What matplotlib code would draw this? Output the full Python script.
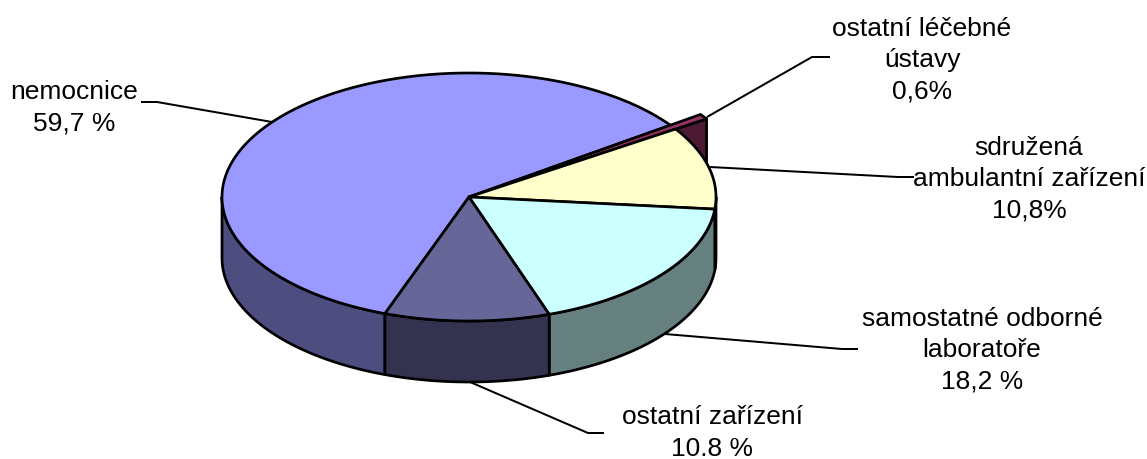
import numpy as np
import matplotlib
matplotlib.use("Agg")
import matplotlib.pyplot as plt
from matplotlib.patches import Polygon

plt.rcParams['font.family'] = ['Liberation Sans', 'DejaVu Sans']

categories = ["nemocnice", "ostatní léčebné ústavy", "sdružená ambulantní zařízení",
              "samostatné odborné laboratoře", "ostatní zařízení"]
values = [59.7, 0.6, 10.8, 18.2, 10.8]
top_colors = ["#9999FF", "#993366", "#FFFFCC", "#CCFFFF", "#666699"]
side_colors = ["#4D4D80", "#4D1A33", "#808066", "#668080", "#333350"]
label_texts = ["nemocnice\n59,7 %", "ostatní léčebné\nústavy\n0,6%",
               "sdružená\nambulantní zařízení\n10,8%",
               "samostatné odborné\nlaboratoře\n18,2 %", "ostatní zařízení\n10.8 %"]
label_pos = [(74, 108), (922, 60), (1029, 179), (982, 350), (712, 433)]
leaders = [[(141, 102), (157, 102), (272, 122)],
           [(830, 57), (812, 57), (707, 117)],
           [(914, 177), (898, 177), (710, 167)],
           [(858, 349), (842, 349), (665, 334)],
           [(604, 433), (588, 433), (470, 382)]]

CX, CY, RX, RY, DEPTH = 469, 197, 247, 124, 61
START = 250.1
LW = 2.7 * 0.72
LEADER_LW = 2.0 * 0.72
SMALL_SCALE = 1.15  # radial overshoot of the thin slice

fig = plt.figure(figsize=(11.47, 4.59), dpi=100)
ax = fig.add_axes([0, 0, 1, 1])
ax.set_xlim(0, 1147)
ax.set_ylim(459, 0)
ax.axis("off")


def pts(a0, a1, scale=1.0, dy=0.0):
    t = np.radians(np.linspace(a0, a1, max(int(abs(a1 - a0) * 2), 2)))
    return np.column_stack([CX + scale * RX * np.cos(t),
                            CY + dy - scale * RY * np.sin(t)])


total = sum(values)
edges = [START]
for v in values:
    edges.append(edges[-1] - v / total * 360)


def add(xy, fc, z):
    ax.add_patch(Polygon(xy, closed=True, facecolor=fc, edgecolor="black",
                         linewidth=LW, joinstyle="round", zorder=z))


# thin slice: its cut wall sits behind everything else
i_small = 1
a_hi, a_lo = edges[i_small], edges[i_small + 1]
outer = pts(a_lo, a_lo, SMALL_SCALE)[0]
add([(CX, CY), outer, outer + [0, DEPTH], (CX, CY + DEPTH)], side_colors[i_small], 1)

# outer walls of the front half
for i, (a0, a1) in enumerate(zip(edges[:-1], edges[1:])):
    lo, hi = a1, a0
    # front of the pie lies between 180 and 360 degrees (−180..0)
    for shift in (0, -360):
        l, h = max(lo, 180 + shift), min(hi, 360 + shift)
        if h > l and i != i_small:
            add(np.vstack([pts(h, l), pts(l, h, dy=DEPTH)]), side_colors[i], 2)

# top faces
for i, (a0, a1) in enumerate(zip(edges[:-1], edges[1:])):
    scale = SMALL_SCALE if i == i_small else 1.0
    add(np.vstack([[(CX, CY)], pts(a0, a1, scale)]), top_colors[i], 3)

for path in leaders:
    xs, ys = zip(*path)
    ax.plot(xs, ys, color="black", lw=LEADER_LW, zorder=0, solid_capstyle="butt")

for txt, (x, y) in zip(label_texts, label_pos):
    ax.text(x, y, txt, ha="center", va="center", fontsize=19, color="black",
            linespacing=1.37, zorder=5)

fig.savefig("out.png", dpi=100, facecolor="white")
